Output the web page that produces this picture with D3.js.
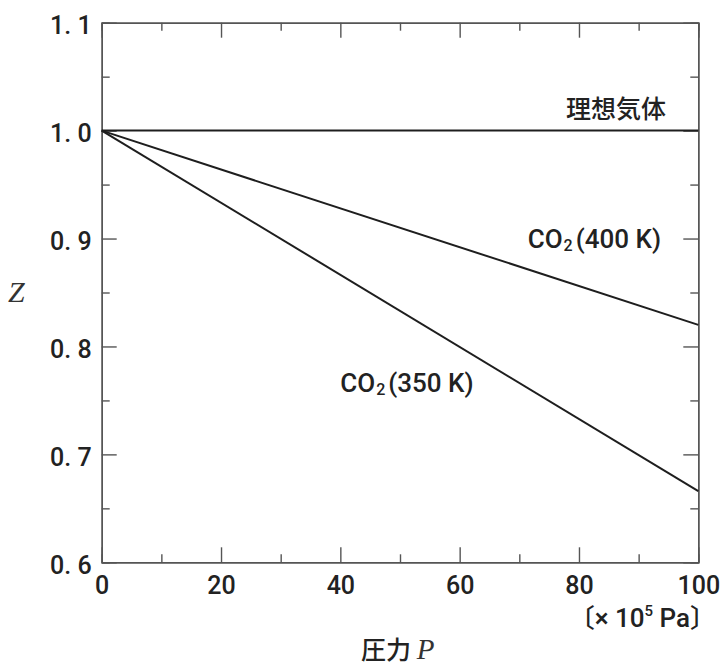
<!DOCTYPE html>
<meta charset="utf-8">
<html>
  <head>
    <style>
      body { margin: 0; background: #fff; }
      .axis path, .axis line { stroke: #555; stroke-width: 1.4px; }
      .axis text {
        font-family: Roboto, "Liberation Sans", sans-serif;
        font-size: 25px;
        font-weight: 500;
        fill: #222;
      }
      .curve { fill: none; stroke: #1e1e1e; stroke-width: 2px; }
      text.lbl {
        font-family: Roboto, "Noto Sans CJK JP", sans-serif;
        font-size: 26px;
        font-weight: 500;
        fill: #222;
      }
      text.jp {
        font-family: "Noto Sans CJK JP", sans-serif;
        font-size: 25px;
        font-weight: 500;
        fill: #222;
      }
      text.var {
        font-family: "Liberation Serif", serif;
        font-style: italic;
        font-size: 30px;
        fill: #333;
      }
    </style>
    <script src="https://cdn.jsdelivr.net/npm/d3@7"></script>
  </head>
  <body>
    <div id="chart"></div>
    <script>
    // pressure (x 10^5 Pa) at the ends of each straight line
    var pressure = [0, 100];
    var idealGas = [1.0, 1.0];
    var co2_400 = [1.0, 0.82];
    var co2_350 = [1.0, 0.666];

    var xMajor = [0, 20, 40, 60, 80, 100];
    var xMinor = [10, 30, 50, 70, 90];
    var yMajor = [0.6, 0.7, 0.8, 0.9, 1.0, 1.1];
    var yMinor = [0.65, 0.75, 0.85, 0.95, 1.05];

    var margin = { top: 22.7, right: 22.7, bottom: 103.7, left: 101.7 },
        width = 721 - margin.left - margin.right,
        height = 666 - margin.top - margin.bottom;

    var svg = d3.select("#chart").append("svg")
        .attr("width", 721)
        .attr("height", 666)
      .append("g")
        .attr("transform", "translate(" + margin.left + "," + margin.top + ")");

    var x = d3.scaleLinear().domain([0, 100]).range([0, width]);
    var y = d3.scaleLinear().domain([0.6, 1.1]).range([height, 0]);

    function yFmt(d) { return d3.format(".1f")(d).replace(".", ". "); }

    // minor ticks (no labels)
    svg.append("g").attr("class", "axis")
        .attr("transform", "translate(0," + height + ")")
        .call(d3.axisBottom(x).tickValues(xMinor).tickSize(-8).tickFormat(""));
    svg.append("g").attr("class", "axis")
        .call(d3.axisTop(x).tickValues(xMinor).tickSize(-8).tickFormat(""));
    svg.append("g").attr("class", "axis")
        .call(d3.axisLeft(y).tickValues(yMinor).tickSize(-8).tickFormat(""));
    svg.append("g").attr("class", "axis")
        .attr("transform", "translate(" + width + ",0)")
        .call(d3.axisRight(y).tickValues(yMinor).tickSize(-8).tickFormat(""));

    // major ticks
    svg.append("g").attr("class", "axis")
        .attr("transform", "translate(0," + height + ")")
        .call(d3.axisBottom(x).tickValues(xMajor).tickSize(-15).tickSizeOuter(0).tickPadding(14));
    svg.append("g").attr("class", "axis")
        .call(d3.axisTop(x).tickValues(xMajor).tickSize(-15).tickSizeOuter(0).tickFormat(""));
    svg.append("g").attr("class", "axis")
        .call(d3.axisLeft(y).tickValues(yMajor).tickSize(-15).tickSizeOuter(0).tickPadding(10).tickFormat(yFmt))
      .selectAll("text").attr("dy", "0.43em");
    svg.append("g").attr("class", "axis")
        .attr("transform", "translate(" + width + ",0)")
        .call(d3.axisRight(y).tickValues(yMajor).tickSize(-15).tickSizeOuter(0).tickFormat(""));

    // lines
    var line = d3.line()
        .x(function(d, i) { return x(pressure[i]); })
        .y(function(d) { return y(d); });

    [idealGas, co2_400, co2_350].forEach(function(s) {
      svg.append("path").attr("class", "curve").attr("d", line(s));
    });

    // line labels
    svg.append("text").attr("class", "jp")
        .attr("x", x(86.2)).attr("y", y(1.0) - 13)
        .attr("text-anchor", "middle")
        .text("理想気体");

    function co2Label(px, py, temp) {
      var t = svg.append("text").attr("class", "lbl")
          .attr("x", x(px)).attr("y", y(py));
      t.append("tspan").text("CO");
      t.append("tspan").attr("font-size", "16px").attr("dx", 1).attr("dy", 3).text("2");
      t.append("tspan").attr("dx", 3).attr("dy", -3).text("(" + temp + " K)");
    }
    co2Label(71.4, 0.891, 400);
    co2Label(40.0, 0.758, 350);

    // axis titles
    svg.append("text").attr("class", "var")
        .attr("x", 8 - margin.left).attr("y", 302 - margin.top)
        .text("Z");

    var unit = svg.append("text").attr("class", "lbl")
        .attr("x", 716 - margin.left).attr("y", 627.5 - margin.top)
        .attr("text-anchor", "end")
        .style("font-family", "Roboto, 'Noto Sans CJK JP', sans-serif")
        .style("font-size", "26px");
    unit.append("tspan").text("〔× 10");
    unit.append("tspan").attr("font-size", "15px").attr("dy", -11).text("5");
    unit.append("tspan").attr("dy", 11).text(" Pa〕");

    var xt = svg.append("text")
        .attr("x", 361 - margin.left).attr("y", 659 - margin.top);
    xt.append("tspan").style("font-family", "'Noto Sans CJK JP', sans-serif")
        .style("font-size", "25px").style("font-weight", 500).style("fill", "#222").text("圧力 ");
    xt.append("tspan").style("font-family", "'Liberation Serif', serif")
        .style("font-style", "italic").style("font-size", "29px").style("fill", "#333").text("P");
    </script>
  </body>
</html>
